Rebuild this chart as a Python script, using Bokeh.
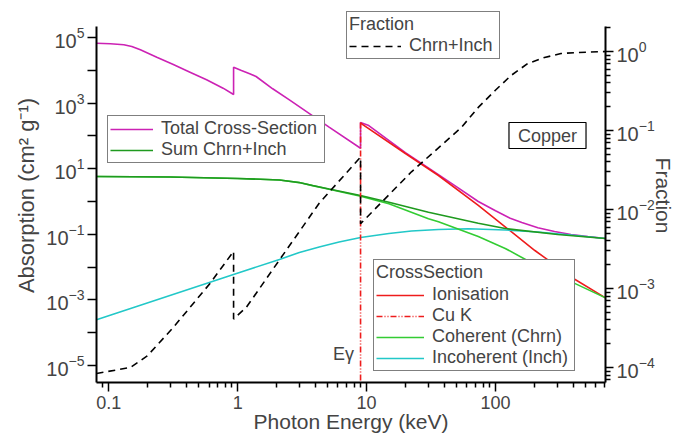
import numpy as np
from bokeh.plotting import figure
from bokeh.models import (Range1d, LogAxis, LogScale, FixedTicker, LogTickFormatter,
                          CustomJSTickFormatter, Legend, LegendItem, Label)
from bokeh.embed import file_html
from bokeh.resources import INLINE

FONT = "Liberation Sans"

# ---------------- data ----------------
total_energy = [0.0804, 0.103, 0.131, 0.151, 0.176, 0.236, 0.317, 0.427, 0.574, 0.771, 0.93, 0.93,
                1.07, 1.24, 1.39, 1.87, 2.52, 3.70, 5.12, 8.98, 8.98, 10.4, 20.0, 36.1, 50.0,
                73.5, 100, 130, 160, 213, 287, 385, 520, 713]
total_value = [67000, 64300, 59900, 53200, 42200, 25100, 15000, 8750, 5130, 2850, 1830, 12400,
               9860, 7810, 6460, 2730, 1260, 447, 184, 42, 257, 207, 31, 6.6, 2.8,
               1.0, 0.52, 0.31, 0.23, 0.158, 0.122, 0.0986, 0.0857, 0.0745]

sum_energy = [0.0804, 0.3, 1.0, 1.5, 2.11, 3.0, 3.81, 5.12, 8.98, 14.9, 30.2, 73.5, 119, 303, 713]
sum_value = [5.8, 5.6, 5.0, 4.78, 4.52, 3.79, 3.08, 2.40, 1.52, 0.95, 0.47, 0.218, 0.15, 0.099, 0.074]

ion_energy = [8.98, 20.0, 36.1, 73.5, 202, 278, 385, 713]
ion_value = [245, 29, 6.2, 0.76, 0.032, 0.0129, 0.0050, 0.00115]

cuk_energy = [8.98, 8.98]
cuk_value = [257, 1e-6]

coh_energy = [0.0804, 0.3, 1.0, 1.5, 2.11, 3.0, 3.81, 5.12, 8.98, 14.9, 30.2, 36.1, 73.5, 119,
              195, 385, 713]
coh_value = [5.8, 5.6, 5.0, 4.78, 4.5, 3.77, 3.05, 2.36, 1.45, 0.85, 0.30, 0.24, 0.085, 0.037,
             0.0129, 0.0036, 0.00115]

inc_energy = [0.0804, 0.98, 2.11, 3.01, 4.29, 6.12, 9.0, 14.9, 22.3, 36.1, 61.5, 119, 213, 384, 713]
inc_value = [2.5e-4, 6.4e-3, 0.0171, 0.0279, 0.041, 0.0582, 0.0798, 0.106, 0.126, 0.140, 0.147,
             0.135, 0.117, 0.095, 0.0745]

frac_energy = [0.0804, 0.147, 0.199, 0.316, 0.608, 0.93, 0.93, 1.17, 2.11, 4.29, 8.98, 8.98,
               22.3, 54.3, 73.5, 99.3, 132, 178, 240, 322, 434, 713]
frac_value = [8.4e-5, 1.0e-4, 1.4e-4, 3.2e-4, 1.15e-3, 2.95e-3, 4.1e-4, 5.8e-4, 2.3e-3, 0.012,
              0.046, 6.6e-3, 0.03, 0.109, 0.196, 0.321, 0.497, 0.705, 0.839, 0.943, 0.971, 1.0]

x_tick_values = [0.1, 1, 10, 100]
left_label_exponents = [-5, -3, -1, 1, 3, 5]
left_plain_exponents = [-4, -2, 0, 2, 4]
right_exponents = [-4, -3, -2, -1, 0]

# axis extents (bottom of frame .. top of drawn axis line) and frame top
X_LO, X_HI = 0.0804, 713
Y_LO, Y_AXTOP, Y_FRAMETOP = 3.03e-6, 2.16e5, 7.65e5
F_LO, F_AXTOP, F_FRAMETOP = 6.46e-5, 2.07, 3.50

# ---------------- figure ----------------
p = figure(width=677, height=439, x_axis_type="log", y_axis_type="log",
           x_range=Range1d(X_LO, X_HI), y_range=Range1d(Y_LO, Y_FRAMETOP),
           output_backend="svg", toolbar_location=None,
           min_border_left=96, min_border_right=69, min_border_top=8, min_border_bottom=57)
p.extra_y_ranges = {"frac": Range1d(F_LO, F_FRAMETOP)}
p.extra_y_scales = {"frac": LogScale()}
p.outline_line_color = None
p.xgrid.visible = False
p.ygrid.visible = False
p.background_fill_color = "white"
p.border_fill_color = "white"

MAG = "#cc22b4"
RED = "#ee1c1c"
DGREEN = "#1f9a1f"
LGREEN = "#33cc33"
CYAN = "#22c8c8"
LW = 1.6

r_total = p.line(total_energy, total_value, line_color=MAG, line_width=LW)
r_ion = p.line(ion_energy, ion_value, line_color=RED, line_width=LW)
r_inc = p.line(inc_energy, inc_value, line_color=CYAN, line_width=LW)
r_coh = p.line(coh_energy, coh_value, line_color=LGREEN, line_width=LW)
r_sum = p.line(sum_energy, sum_value, line_color=DGREEN, line_width=LW)
r_cuk = p.line(cuk_energy, cuk_value, line_color=RED, line_width=LW, line_dash="6 2 1 2 1 2")
r_frac = p.line(frac_energy, frac_value, y_range_name="frac", line_color="black",
                line_width=LW, line_dash="7 5")

# ---------------- axes ----------------
def style_axis(ax, label_size="20px"):
    ax.axis_line_width = 2
    ax.axis_line_color = "black"
    ax.major_tick_line_width = 1.5
    ax.minor_tick_line_width = 1.5
    ax.major_tick_in = 0
    ax.minor_tick_in = 0
    ax.major_label_text_font = FONT
    ax.major_label_text_font_size = label_size
    ax.axis_label_text_font = FONT
    ax.axis_label_text_font_size = "21px"
    ax.axis_label_text_font_style = "normal"

xa = p.xaxis[0]
style_axis(xa, "18px")
x_minor = [0.08, 0.09] + [k * 10.0 ** d for d in (-1, 0, 1, 2) for k in range(2, 10) if k * 10.0 ** d < X_HI]
xa.ticker = FixedTicker(ticks=x_tick_values, minor_ticks=x_minor)
xa.formatter = CustomJSTickFormatter(code="return tick >= 1 ? tick.toFixed(0) : tick.toFixed(1);")
xa.major_tick_out = 9
xa.minor_tick_out = 5
xa.major_label_standoff = 4
xa.axis_label = "Photon Energy (keV)"
xa.axis_label_standoff = -2

ya = p.yaxis[0]
style_axis(ya)
ya.ticker = FixedTicker(ticks=[10.0 ** e for e in left_label_exponents],
                        minor_ticks=[10.0 ** e for e in left_plain_exponents])
ya.formatter = LogTickFormatter()
ya.bounds = (Y_LO, Y_AXTOP)
ya.major_tick_out = 9
ya.minor_tick_out = 9
ya.major_label_standoff = 3
ya.axis_label = "Absorption (cm² g⁻¹)"
ya.axis_label_text_font_size = "22px"
ya.axis_label_standoff = 4

ra = LogAxis(y_range_name="frac", axis_label="Fraction")
style_axis(ra)
r_minor = [k * 10.0 ** d for d in (-5, -4, -3, -2, -1, 0) for k in range(2, 10)
           if F_LO <= k * 10.0 ** d <= F_AXTOP]
ra.ticker = FixedTicker(ticks=[10.0 ** e for e in right_exponents], minor_ticks=r_minor)
ra.formatter = LogTickFormatter()
ra.bounds = (F_LO, F_AXTOP)
ra.major_tick_out = 8
ra.minor_tick_out = 5
ra.major_label_standoff = 3
ra.axis_label_standoff = -6
p.add_layout(ra, "right")

# ---------------- legends ----------------
def style_legend(lg):
    lg.border_line_color = "black"
    lg.border_line_width = 1.2
    lg.background_fill_color = "white"
    lg.background_fill_alpha = 1
    lg.label_text_font = FONT
    lg.label_text_font_size = "18px"
    lg.title_text_font = FONT
    lg.title_text_font_size = "18px"
    lg.title_text_font_style = "normal"
    lg.label_standoff = 8
    lg.label_height = 18
    lg.glyph_height = 18
    lg.padding = 2
    lg.margin = 0

leg1 = Legend(items=[LegendItem(label="Total Cross-Section", renderers=[r_total]),
                     LegendItem(label="Sum Chrn+Inch", renderers=[r_sum])],
              location=(11, 219))
style_legend(leg1)
leg1.spacing = -4
leg1.glyph_width = 43
leg1.label_width = 161
p.add_layout(leg1)

leg2 = Legend(title="Fraction", items=[LegendItem(label="Chrn+Inch", renderers=[r_frac])],
              location=(250, 323))
style_legend(leg2)
leg2.title_standoff = -2
leg2.glyph_width = 52
leg2.label_width = 88
p.add_layout(leg2)

leg3 = Legend(title="CrossSection",
              items=[LegendItem(label="Ionisation", renderers=[r_ion]),
                     LegendItem(label="Cu K", renderers=[r_cuk]),
                     LegendItem(label="Coherent (Chrn)", renderers=[r_coh]),
                     LegendItem(label="Incoherent (Inch)", renderers=[r_inc])],
              location=(277, 11))
style_legend(leg3)
leg3.spacing = -3
leg3.title_standoff = 1
leg3.glyph_width = 48
leg3.label_width = 140
p.add_layout(leg3)

copper = Label(x=451, y=247, x_units="screen", y_units="screen", text="Copper",
               text_align="center", text_baseline="middle", text_font=FONT,
               text_font_size="18px", border_line_color="black", border_line_width=1.2,
               background_fill_color="white",
               padding=dict(left=9, right=9, top=3, bottom=3))
p.add_layout(copper)

egam = Label(x=247, y=29, x_units="screen", y_units="screen", text="Eγ",
             text_align="center", text_baseline="middle", text_font=FONT,
             text_font_size="18px")
p.add_layout(egam)

open("out.html", "w").write(file_html(p, INLINE))
